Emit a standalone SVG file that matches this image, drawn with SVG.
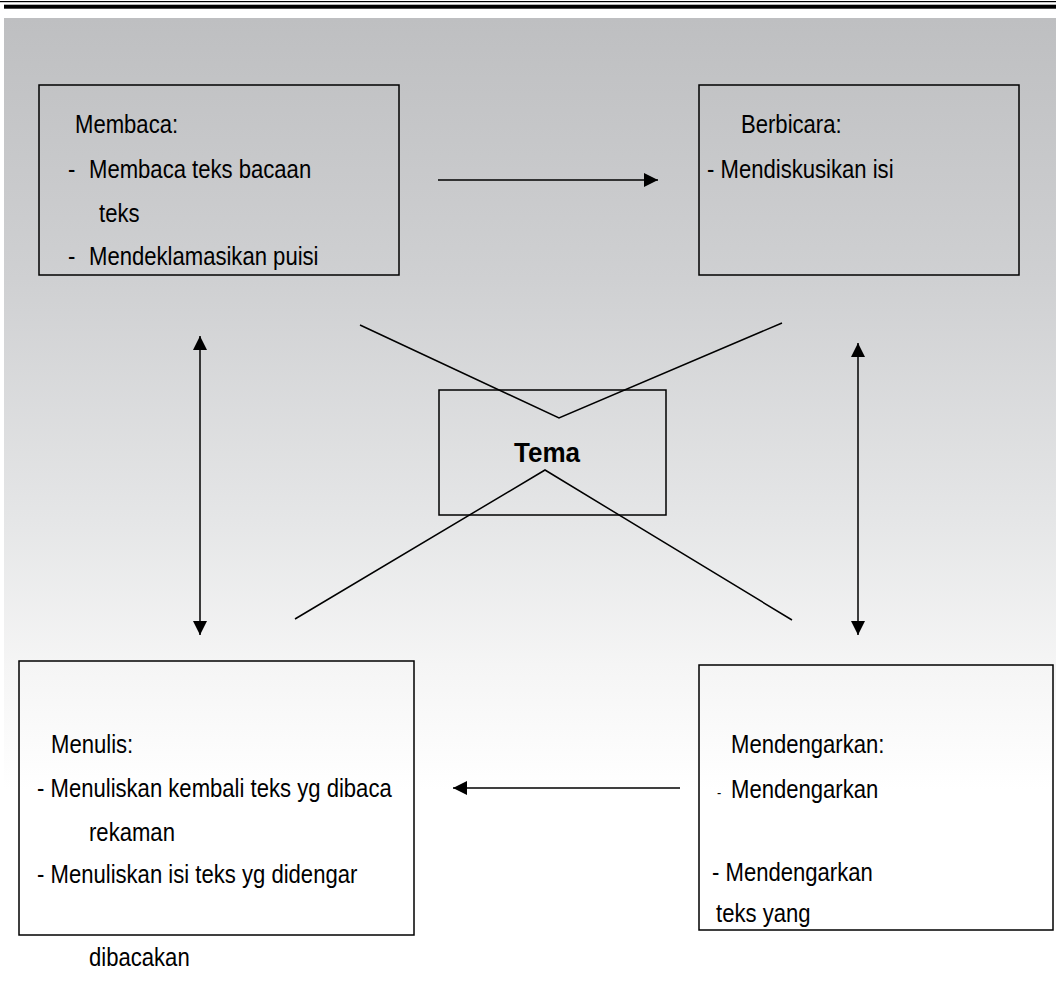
<svg xmlns="http://www.w3.org/2000/svg" width="1056" height="983" viewBox="0 0 1056 983">
<style>
.t{font-family:"Liberation Sans",Arial,sans-serif;font-size:26px;fill:#000}
.b{font-family:"Liberation Sans",Arial,sans-serif;font-size:28px;font-weight:bold;fill:#000}
.box{fill:none;stroke:#000;stroke-width:1.5}
.ln{fill:none;stroke:#000;stroke-width:1.5}
</style>
<defs>
<linearGradient id="bg" x1="0" y1="18" x2="0" y2="983" gradientUnits="userSpaceOnUse">
<stop offset="0" stop-color="#bebfc1"/>
<stop offset="0.27" stop-color="#cfd0d2"/>
<stop offset="0.52" stop-color="#e5e6e7"/>
<stop offset="0.67" stop-color="#f5f5f5"/>
<stop offset="0.8" stop-color="#ffffff"/>
<stop offset="1" stop-color="#ffffff"/>
</linearGradient>
<marker id="ah" viewBox="0 0 14 14" refX="14" refY="7" markerWidth="14" markerHeight="14" markerUnits="userSpaceOnUse" orient="auto-start-reverse">
<path d="M0,0 L14,7 L0,14 Z" fill="#000"/>
</marker>
</defs>
<rect x="0" y="0" width="1056" height="983" fill="#fff"/>
<rect x="4" y="18" width="1052" height="965" fill="url(#bg)"/>
<rect x="0" y="1" width="1056" height="1.2" fill="#000"/>
<rect x="4" y="4.7" width="1052" height="4" fill="#000"/>

<g id="connectors">
<line class="ln" x1="438" y1="180" x2="658" y2="180" marker-end="url(#ah)"/>
<line class="ln" x1="680" y1="788" x2="453" y2="788" marker-end="url(#ah)"/>
<line class="ln" x1="200" y1="336" x2="200" y2="635" marker-start="url(#ah)" marker-end="url(#ah)"/>
<line class="ln" x1="858" y1="343" x2="858" y2="635" marker-start="url(#ah)" marker-end="url(#ah)"/>
<polyline class="ln" points="360,325 559,418 782,323"/>
<polyline class="ln" points="295,619 545,470 792,620"/>
</g>

<g id="membaca">
<rect class="box" x="39" y="85" width="360" height="190"/>
<text class="t" transform="translate(75,133) scale(0.85,1)">Membaca:</text>
<text class="t" transform="translate(68,178) scale(0.85,1)">-</text>
<text class="t" transform="translate(89,178) scale(0.85,1)">Membaca teks bacaan</text>
<text class="t" transform="translate(99,222) scale(0.85,1)">teks</text>
<text class="t" transform="translate(68,265) scale(0.85,1)">-</text>
<text class="t" transform="translate(89,265) scale(0.85,1)">Mendeklamasikan puisi</text>
</g>

<g id="berbicara">
<rect class="box" x="699" y="85" width="320" height="190"/>
<text class="t" transform="translate(741,133) scale(0.85,1)">Berbicara:</text>
<text class="t" transform="translate(707,178) scale(0.85,1)">- Mendiskusikan isi</text>
</g>

<g id="tema">
<rect class="box" x="439" y="390" width="227" height="125"/>
<text class="b" transform="translate(514,462) scale(0.93,1)">Tema</text>
</g>

<g id="menulis">
<rect class="box" x="19" y="661" width="395" height="274"/>
<text class="t" transform="translate(51,753) scale(0.85,1)">Menulis:</text>
<text class="t" transform="translate(37,797) scale(0.85,1)">- Menuliskan kembali teks yg dibaca</text>
<text class="t" transform="translate(89,841) scale(0.85,1)">rekaman</text>
<text class="t" transform="translate(37,883) scale(0.85,1)">- Menuliskan isi teks yg didengar</text>
<text class="t" transform="translate(89,966) scale(0.85,1)">dibacakan</text>
</g>

<g id="mendengarkan">
<rect class="box" x="699" y="665" width="354" height="265"/>
<text class="t" transform="translate(731,753) scale(0.85,1)">Mendengarkan:</text>
<text class="t" style="font-size:15px" transform="translate(717,798) scale(0.85,1)">-</text>
<text class="t" transform="translate(731,798) scale(0.85,1)">Mendengarkan</text>
<text class="t" transform="translate(712,881) scale(0.85,1)">- Mendengarkan</text>
<text class="t" transform="translate(716,922) scale(0.85,1)">teks yang</text>
</g>
</svg>
